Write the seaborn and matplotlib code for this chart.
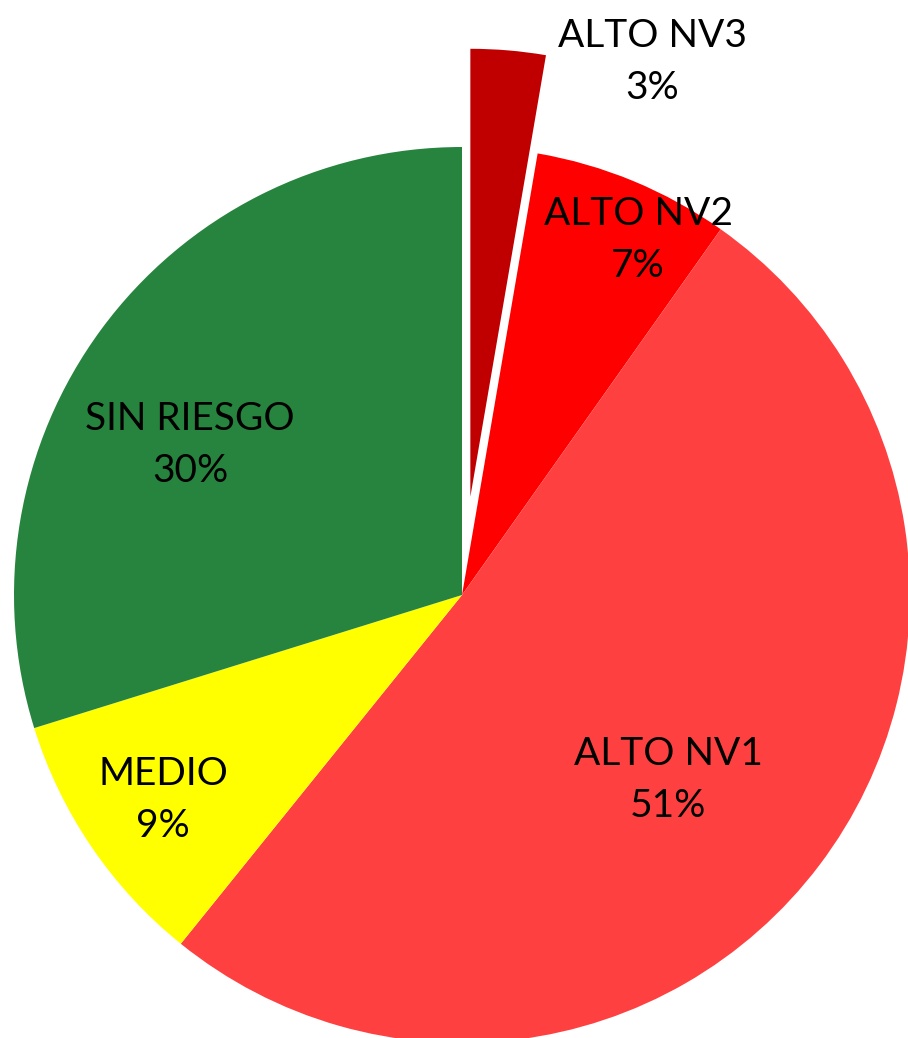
import matplotlib
matplotlib.use("Agg")
import matplotlib.pyplot as plt
import seaborn as sns

# data (clockwise from 12 o'clock)
categories = ["ALTO NV3", "ALTO NV2", "ALTO NV1", "MEDIO", "SIN RIESGO"]
shares = [2.7, 7.1, 51.0, 9.4, 29.8]
colors = ["#C00000", "#FF0000", "#FF4040", "#FFFF00", "#27843E"]
explode = [0.22, 0, 0, 0, 0]

# label centres in pie-radius units
label_pos = [(0.424, 1.19), (0.393, 0.792), (0.46, -0.413),
             (-0.667, -0.458), (-0.607, 0.335)]

sns.set_theme(style="white")
plt.rcParams["font.family"] = ["Lato", "DejaVu Sans"]

fig = plt.figure(figsize=(9.08, 10.38), dpi=100)
ax = fig.add_axes([0, 0, 1, 1])

total = sum(shares)
ax.pie(shares, colors=colors, explode=explode, startangle=90,
       counterclock=False, radius=1.0,
       wedgeprops=dict(linewidth=0))

for name, val, (x, y) in zip(categories, shares, label_pos):
    ax.text(x, y, f"{name}\n{val / total * 100:.0f}%", ha="center",
            va="center", fontsize=28, color="black", linespacing=1.55)

ax.set_xlim(-462 / 448, 446 / 448)
ax.set_ylim(-443 / 448, 595 / 448)
ax.set_aspect("auto")
ax.axis("off")

fig.savefig("out.png", dpi=100, facecolor="white")
